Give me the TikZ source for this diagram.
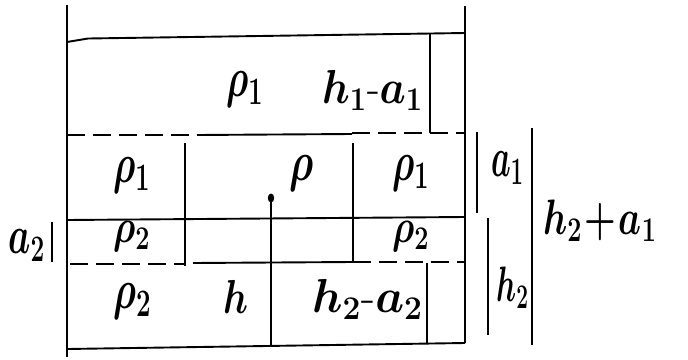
\documentclass[tikz,border=0pt]{standalone}
\newcommand{\lbtext}[3]{\scalebox{#1}[#2]{\huge\boldmath$#3$}}
\newcommand{\hy}{\textrm{-}}
\begin{document}
\begin{tikzpicture}[x=1pt,y=-1pt,
  wall/.style={line width=2.6pt},
  ln/.style={line width=1.9pt},
  dsh/.style={line width=1.9pt,dash pattern=on 18pt off 8pt},
  dim/.style={line width=2.1pt},
  lbl/.style={inner sep=0pt,anchor=base west}]
\useasboundingbox (0,0) rectangle (688,359);
% container
\draw[wall] (67,5) -- (67,357);
\draw[wall] (465,6) -- (465,343);
\draw[ln] (67,349) -- (465,343);
% surface and upper inner rectangle
\draw[ln] (67,42) -- (88,38.5) -- (465,33);
\draw[ln] (430,33) -- (430,133);
% first interface (dashed, solid over the middle box)
\draw[dsh] (67,135) -- (197,135);
\draw[ln] (197,135) -- (352,134);
\draw[dsh] (352,133) -- (465,133);
% middle box
\draw[ln] (185,143) -- (185,266);
\draw[ln] (353,143) -- (353,263);
% solid line
\draw[ln] (67,220) -- (465,217);
% second interface
\draw[dsh] (70,264) -- (185,264);
\draw[ln] (193,263) -- (353,262);
\draw[dsh] (353,262) -- (465,262);
% lower inner rectangle
\draw[ln] (427,263) -- (427,343);
% h line with dot
\draw[ln] (271,199) -- (271,347);
\fill (271,198) ellipse (3.2pt and 4.5pt);
% dimension bars
\draw[dim] (477,132) -- (477,213);
\draw[dim] (488,218) -- (488,335);
\draw[dim] (532,128) -- (532,345);
\draw[dim] (52,222) -- (52,262);
% labels
\node[lbl] (r1top) at (226,96) {\lbtext{1.75}{2.7}{\rho_1}};
\node[lbl] (h1a1) at (322,103) {\lbtext{2.0}{2.3}{h_1\hy a_1}};
\node[lbl] (r1l) at (113,182) {\lbtext{1.75}{2.7}{\rho_1}};
\node[lbl] (rc) at (289,180) {\lbtext{1.9}{2.7}{\rho}};
\node[lbl] (r1r) at (392,180) {\lbtext{1.75}{2.7}{\rho_1}};
\node[lbl] (r2l) at (113,242) {\lbtext{1.75}{2.3}{\rho_2}};
\node[lbl] (r2r) at (392,242) {\lbtext{1.75}{2.3}{\rho_2}};
\node[lbl] (r2b) at (113,308) {\lbtext{1.8}{2.7}{\rho_2}};
\node[lbl] (hb) at (223,313) {\lbtext{1.8}{2.3}{h}};
\node[lbl] (h2a2) at (312,312) {\lbtext{2.2}{2.3}{h_2\hy a_2}};
\node[lbl] (a1) at (491,176) {\lbtext{1.5}{2.7}{a_1}};
\node[lbl] (h2) at (496,301) {\lbtext{1.45}{2.4}{h_2}};
\node[lbl] (h2a1) at (543,234) {\lbtext{1.75}{2.4}{h_2\!+\!a_1}};
\node[lbl] (a2) at (8,253) {\lbtext{1.7}{2.6}{a_2}};
\end{tikzpicture}
\end{document}
